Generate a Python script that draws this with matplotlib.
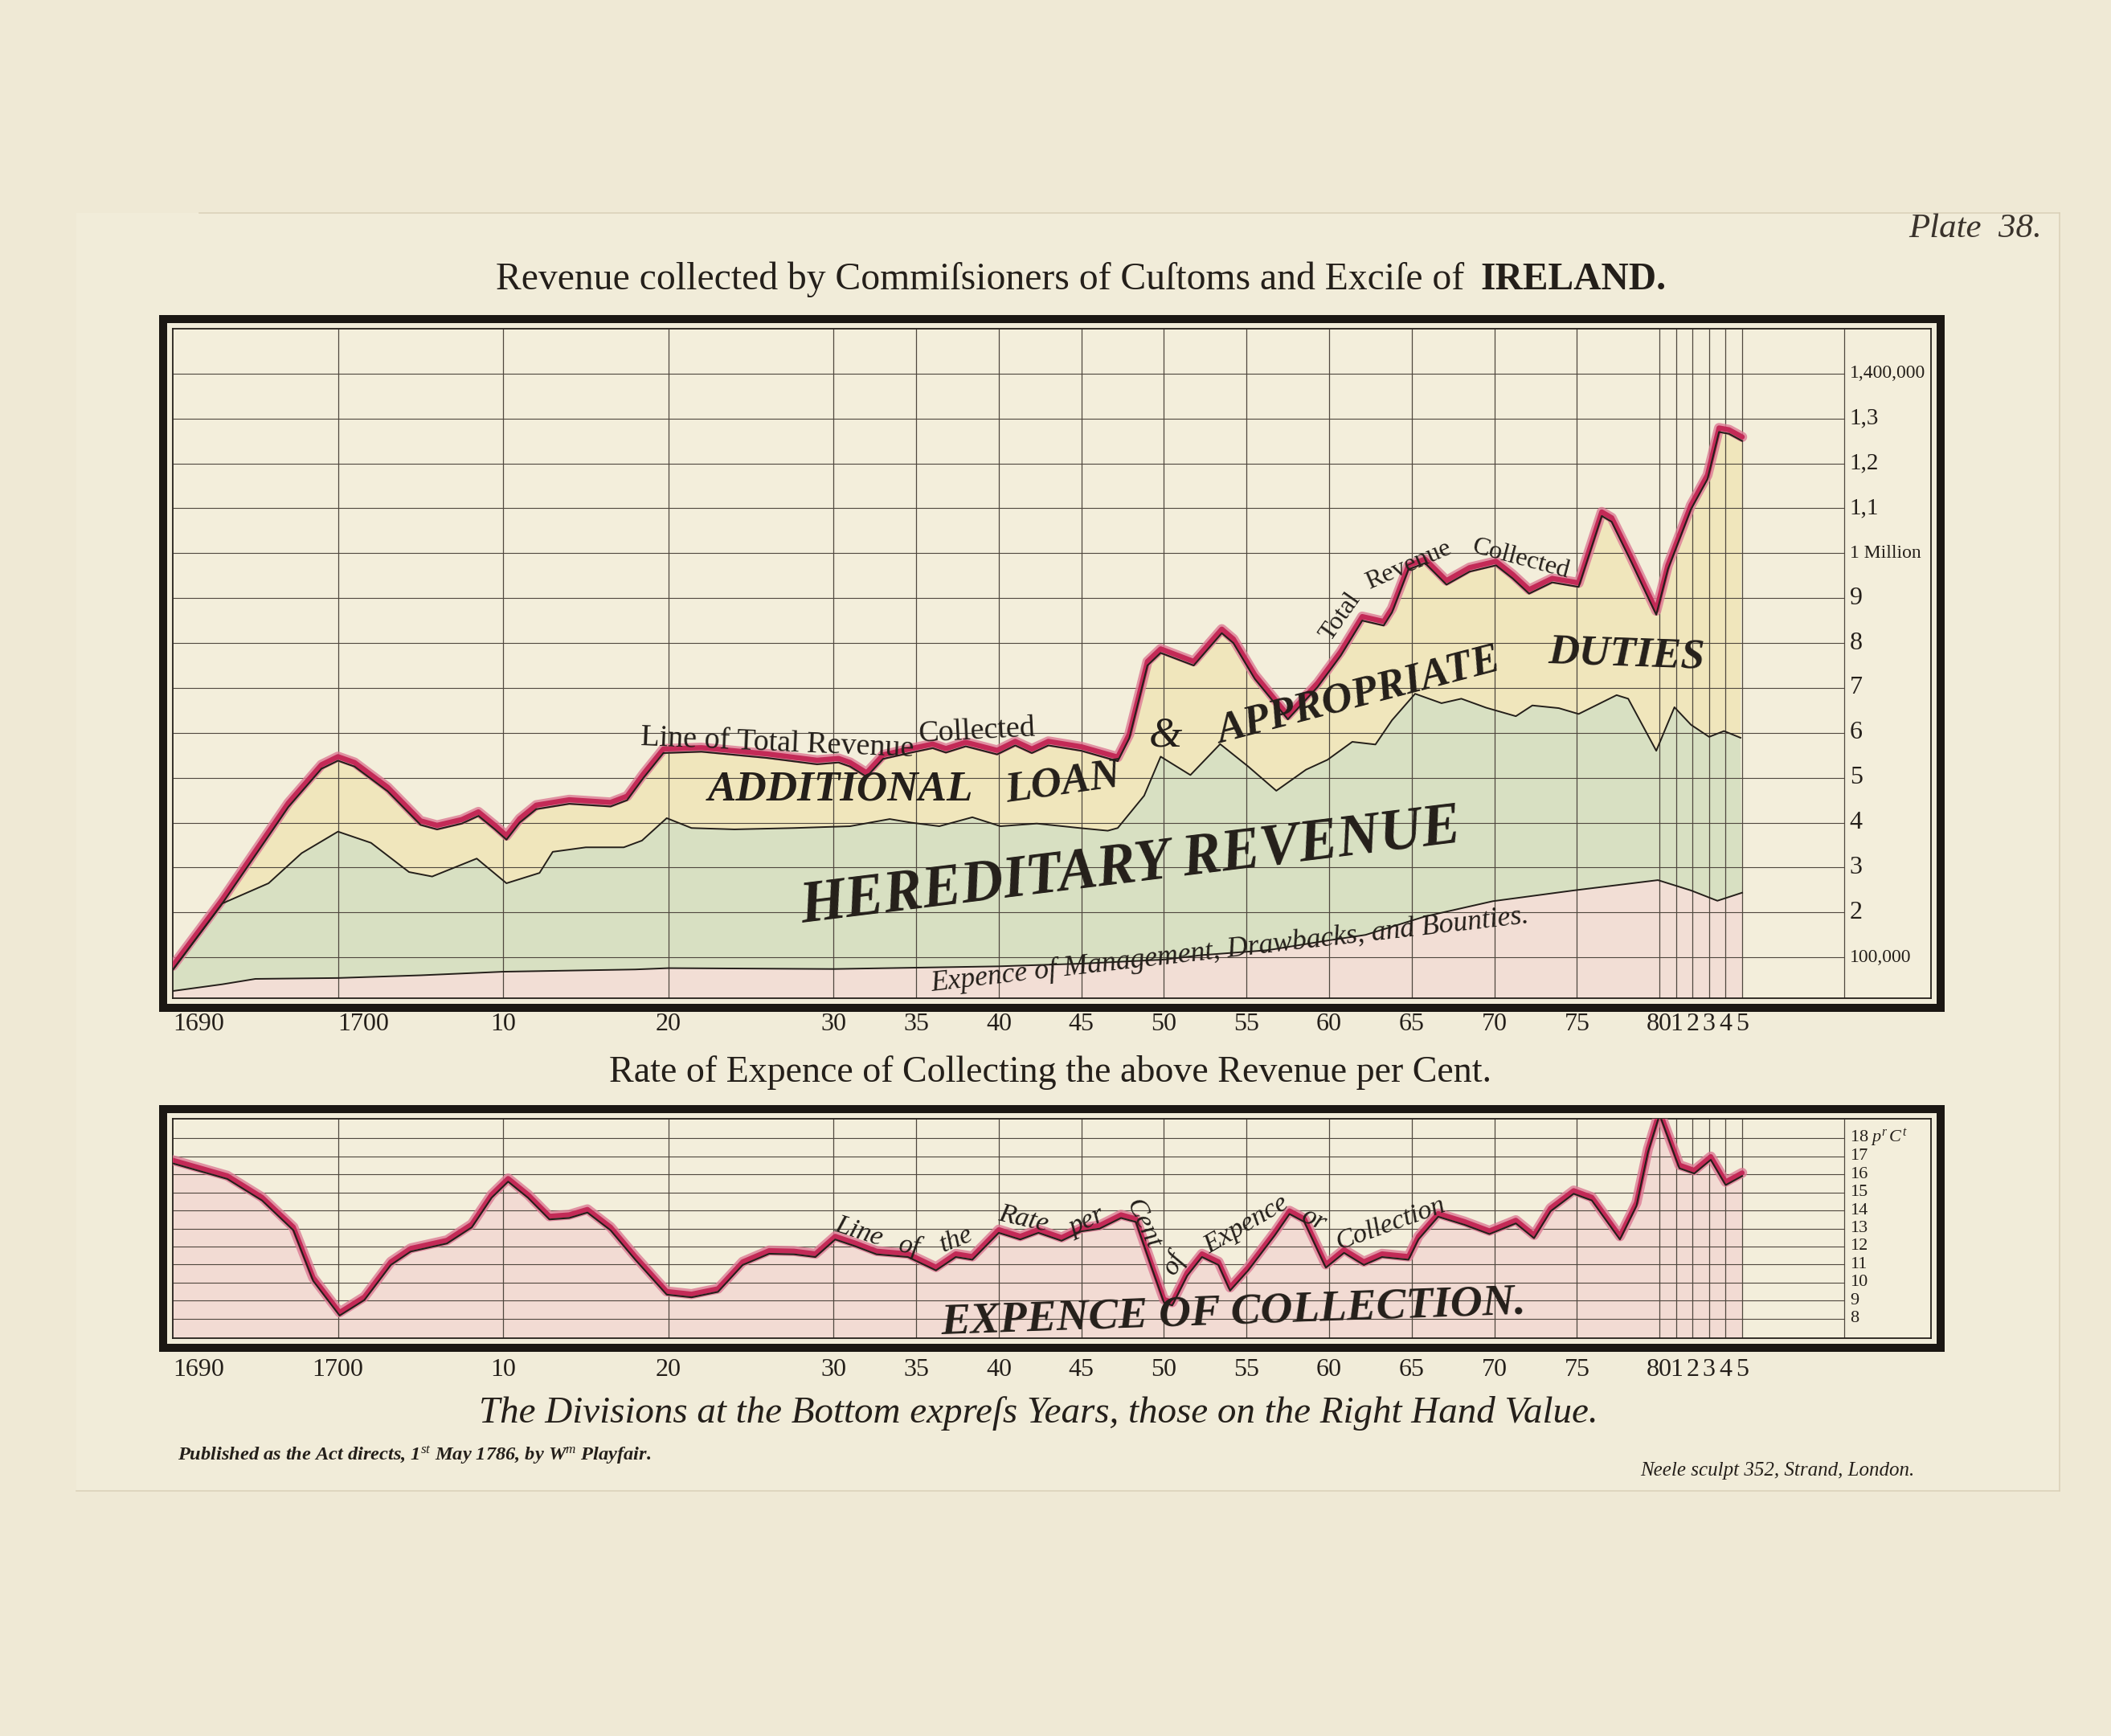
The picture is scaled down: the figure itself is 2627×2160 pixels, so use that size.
import numpy as np
import matplotlib
matplotlib.use("Agg")
import matplotlib.pyplot as plt
from matplotlib.patches import Rectangle
from matplotlib.lines import Line2D
from matplotlib import transforms

# ------------------------------------------------------------------ data
# Revenue values are in units of 100,000 pounds
total_years = [1690, 1693, 1697, 1699, 1700, 1701, 1703, 1705, 1706, 1707.5, 1708.5,
               1709.5, 1710.2, 1711, 1712, 1714, 1716.5, 1717.5, 1718.5, 1719.7, 1722,
               1726, 1729, 1730.3, 1731, 1732, 1733, 1734.7, 1736, 1736.8, 1738, 1739.9,
               1741, 1742, 1743, 1745, 1747.2, 1747.9, 1749, 1749.8, 1751.8, 1753.5,
               1754.2, 1755.5, 1757.5, 1759.3, 1760.7, 1762, 1763.3, 1763.8, 1764.8,
               1765.8, 1767.1, 1768.5, 1770.1, 1771.1, 1772.1, 1773.5, 1775.1, 1776.5,
               1777.1, 1778.3, 1779.8, 1780.5, 1781.9, 1782.9, 1783.6, 1784.2, 1785]
total_vals = [0.72, 2.2, 4.35, 5.2, 5.38, 5.25, 4.7, 3.95, 3.85, 3.98, 4.15,
              3.85, 3.62, 4.0, 4.3, 4.42, 4.36, 4.5, 5.0, 5.55, 5.58,
              5.44, 5.3, 5.34, 5.25, 5.02, 5.42, 5.56, 5.66, 5.56, 5.70, 5.52,
              5.72, 5.55, 5.72, 5.6, 5.37, 5.88, 7.5, 7.78, 7.5, 8.22,
              8.0, 7.2, 6.3, 7.02, 7.72, 8.5, 8.39, 8.68, 9.64,
              9.78, 9.3, 9.59, 9.73, 9.44, 9.1, 9.35, 9.25, 10.83,
              10.7, 9.8, 8.63, 9.64, 10.98, 11.65, 12.7, 12.66, 12.5]

hered_years = [1690, 1693, 1695.8, 1697.8, 1700, 1702, 1704.3, 1705.7, 1708.4, 1710.2,
               1712.2, 1713, 1715, 1717.3, 1718.4, 1719.9, 1721.4, 1724, 1727.6, 1731,
               1733.4, 1734.7, 1736.4, 1738.4, 1740.1, 1742.3, 1744.9, 1746.6, 1747.2,
               1748.8, 1749.8, 1751.6, 1753.4, 1755.1, 1756.8, 1758.6, 1759.9, 1761.4,
               1762.8, 1763.8, 1765.2, 1766.8, 1768, 1769.5, 1771.3, 1772.3, 1773.9,
               1775.1, 1777.4, 1778.1, 1779.8, 1780.9, 1781.9, 1783, 1783.9, 1784.9]
hered_vals = [0.72, 2.2, 2.65, 3.32, 3.8, 3.55, 2.9, 2.8, 3.2, 2.65,
              2.88, 3.35, 3.45, 3.45, 3.6, 4.1, 3.88, 3.85, 3.88, 3.92,
              4.08, 4.0, 3.92, 4.12, 3.92, 3.98, 3.88, 3.82, 3.88,
              4.6, 5.47, 5.06, 5.75, 5.25, 4.71, 5.18, 5.4, 5.8,
              5.74, 6.28, 6.87, 6.66, 6.76, 6.56, 6.37, 6.61, 6.55,
              6.42, 6.84, 6.76, 5.6, 6.57, 6.18, 5.91, 6.04, 5.89]

expence_years = [1690, 1693, 1695, 1700, 1705, 1710, 1718, 1720, 1730, 1740, 1745, 1750,
                 1752.3, 1756.3, 1760, 1762.2, 1765.8, 1769.9, 1774.8, 1779.9, 1781.9,
                 1783.5, 1785]
expence_vals = [0.25, 0.4, 0.52, 0.54, 0.6, 0.68, 0.73, 0.76, 0.74, 0.8, 0.86, 0.95,
                1.05, 1.16, 1.38, 1.5, 1.91, 2.25, 2.49, 2.72, 2.49,
                2.26, 2.44]

# Rate of expence of collection, per cent
rate_years = [1690, 1693.3, 1695.4, 1697.3, 1698.5, 1700.1, 1701.6, 1703.2, 1704.4, 1706.6,
              1708.1, 1709.3, 1710.3, 1711.5, 1712.8, 1714, 1715.1, 1716.5, 1718, 1719.9,
              1721.4, 1723, 1724.5, 1726.1, 1727.6, 1728.9, 1730.1, 1731.3, 1732.6, 1734.5,
              1736.2, 1737.4, 1738.4, 1740, 1741.3, 1742.4, 1743.8, 1745, 1746.1, 1747.4,
              1748.3, 1749.2, 1750, 1750.5, 1751.4, 1752.3, 1753.3, 1754, 1755.1, 1756.7,
              1757.6, 1758.5, 1759.8, 1760.9, 1762.1, 1763.2, 1764.8, 1765.4, 1766.6, 1768.2,
              1769.7, 1771.3, 1772.4, 1773.4, 1774.8, 1775.9, 1777.6, 1778.6, 1779.3, 1780,
              1781.2, 1782.1, 1783.1, 1784, 1785]
rate_vals = [16.6, 15.74, 14.55, 12.9, 10.1, 8.18, 9.04, 10.98, 11.72, 12.17,
             13.06, 14.7, 15.59, 14.7, 13.5, 13.58, 13.88, 12.9, 11.27, 9.34,
             9.19, 9.49, 10.98, 11.6, 11.57, 11.42, 12.39, 12.02, 11.57, 11.42,
             10.68, 11.42, 11.27, 12.76, 12.39, 12.76, 12.32, 12.84, 12.99, 13.58,
             13.36, 10.98, 8.9, 8.74, 10.38, 11.42, 10.98, 9.56, 10.68, 12.61,
             13.8, 13.36, 10.83, 11.65, 10.98, 11.42, 11.27, 12.39, 13.65, 13.2,
             12.69, 13.28, 12.46, 13.95, 14.92, 14.55, 12.39, 14.25, 17.23, 19.3,
             16.33, 16.04, 16.8, 15.4, 15.9]

grid_years = [1700, 1710, 1720, 1730, 1735, 1740, 1745, 1750, 1755, 1760, 1765,
              1770, 1775, 1780, 1781, 1782, 1783, 1784, 1785]
year_label_pos = [1690, 1700, 1710, 1720, 1730, 1735, 1740, 1745, 1750, 1755, 1760,
                  1765, 1770, 1775, 1780, 1781, 1782, 1783, 1784, 1785]
year_labels = ['1690', '1700', '10', '20', '30', '35', '40', '45', '50', '55', '60',
               '65', '70', '75', '80', '1', '2', '3', '4', '5']

rev_grid = [1, 2, 3, 4, 5, 6, 7, 8, 9, 10, 11, 12, 13, 14]
rev_labels = ['100,000', '2', '3', '4', '5', '6', '7', '8', '9', '1 Million',
              '1,1', '1,2', '1,3', '1,400,000']
rate_grid = [8, 9, 10, 11, 12, 13, 14, 15, 16, 17, 18]
rate_labels = ['8', '9', '10', '11', '12', '13', '14', '15', '16', '17', '18 $p^{r}\\,C^{t}$']

# ------------------------------------------------------------------ style
plt.rcParams['font.family'] = ['Liberation Serif', 'DejaVu Serif']
plt.rcParams['mathtext.fontset'] = 'custom'
plt.rcParams['mathtext.rm'] = 'Liberation Serif'
plt.rcParams['mathtext.it'] = 'Liberation Serif:italic'
plt.rcParams['mathtext.bf'] = 'Liberation Serif:bold'

PAPER = '#EFE9D5'
PLATE = '#F1ECD9'
INSIDE = '#F3EEDB'
YELLOW = '#F0E6BC'
GREEN = '#D8E0C2'
PINK = '#F2DED5'
PINK2 = '#F2DBD3'
INK = '#241F1A'
GRID = '#4F473E'
RED = '#C32A57'
REDWASH = '#DC7A94'

W, H = 2627, 2160
fig = plt.figure(figsize=(W / 100, H / 100), dpi=100)
fig.patch.set_facecolor(PAPER)
renderer = fig.canvas.get_renderer()


def fx(x):
    return x / W


def fy(y):
    return 1 - y / H


def fit(t, width_px):
    """Scale a text's font size so its unrotated width matches width_px."""
    rot = t.get_rotation()
    t.set_rotation(0)
    bb = t.get_window_extent(renderer)
    t.set_fontsize(t.get_fontsize() * width_px / bb.width)
    t.set_rotation(rot)
    return t.get_fontsize()


# plate mark
fig.add_artist(Rectangle((fx(95), fy(1855)), fx(2563) - fx(95), fy(265) - fy(1855),
                         transform=fig.transFigure, facecolor=PLATE, edgecolor='none',
                         zorder=0))
for xs, ys in (([248, 2563], [265, 265]), ([2563, 2563], [265, 1855]),
               ([95, 2563], [1855, 1855])):
    fig.add_artist(Line2D([fx(v) for v in xs], [fy(v) for v in ys],
                          transform=fig.transFigure, color='#DAD0B8', lw=1.1, zorder=0))

XMIN, XMAX = 1690, 1796.43
COL = 1791.16


def add_panel(l, t, r, b, ylim):
    ax = fig.add_axes([fx(l), fy(b), fx(r) - fx(l), fy(t) - fy(b)])
    ax.set_xlim(XMIN, XMAX)
    ax.set_ylim(*ylim)
    ax.set_facecolor(INSIDE)
    ax.set_xticks([])
    ax.set_yticks([])
    for s in ax.spines.values():
        s.set_color(INK)
        s.set_linewidth(1.3)
    off = 12
    fig.add_artist(Rectangle((fx(l - off), fy(b + off)), fx(r + off) - fx(l - off),
                             fy(t - off) - fy(b + off), transform=fig.transFigure,
                             fill=False, edgecolor='#1B1713', lw=7.2, zorder=5,
                             joinstyle='miter'))
    return ax


ax1 = add_panel(215, 409, 2403, 1242, (0.09, 15.0))
ax2 = add_panel(215, 1392, 2403, 1665, (6.93, 19.07))

# ------------------------------------------------------------------ top panel
ax1.fill(np.concatenate([total_years, hered_years[::-1]]),
         np.concatenate([total_vals, hered_vals[::-1]]), color=YELLOW, lw=0, zorder=1)
ax1.fill(np.concatenate([hered_years, expence_years[::-1]]),
         np.concatenate([hered_vals, expence_vals[::-1]]), color=GREEN, lw=0, zorder=1)
ax1.fill(np.concatenate([expence_years, [expence_years[-1], expence_years[0]]]),
         np.concatenate([expence_vals, [0, 0]]), color=PINK, lw=0, zorder=1)

for ax, gvals in ((ax1, rev_grid), (ax2, rate_grid)):
    ax.vlines(grid_years, *ax.get_ylim(), color=GRID, lw=0.9, zorder=2)
    ax.vlines([COL], *ax.get_ylim(), color=GRID, lw=0.9, zorder=2)
    ax.hlines(gvals, XMIN, COL, color=GRID, lw=0.8, zorder=2)

up1 = transforms.offset_copy(ax1.transData, fig=fig, x=0, y=5, units='dots')
ax1.plot(total_years, total_vals, color=REDWASH, lw=9, alpha=0.8, transform=up1,
         solid_capstyle='round', solid_joinstyle='round', zorder=3)
ax1.plot(total_years, total_vals, color=RED, lw=4.6, transform=up1,
         solid_capstyle='round', solid_joinstyle='round', zorder=3)
ax1.plot(total_years, total_vals, color=INK, lw=1.5, zorder=4, solid_joinstyle='round')
ax1.plot(hered_years, hered_vals, color=INK, lw=1.4, zorder=4, solid_joinstyle='round')
ax1.plot(expence_years, expence_vals, color=INK, lw=1.4, zorder=4, solid_joinstyle='round')

for v, lab in zip(rev_grid, rev_labels):
    size = 17 if len(lab) > 4 else (21 if ',' in lab else 23)
    ax1.text(COL + 0.35, v, lab, fontsize=size, ha='left', va='center', color=INK, zorder=6)


def put(ax, txt, x, y, rot, size=20, style='normal', weight='normal', width=None):
    t = ax.text(x, y, txt, rotation=rot, fontsize=size, style=style, weight=weight,
                ha='center', va='center', color=INK, zorder=6, rotation_mode='anchor')
    if width is not None:
        fit(t, width)
    return t


# annotations top
t = put(ax1, "Line of Total Revenue", 1726.6, 5.76, -2.4, width=340)
put(ax1, "Collected", 1738.7, 6.04, 3, size=t.get_fontsize())
c = put(ax1, "Collected", 1771.6, 9.87, -15, width=124)
put(ax1, "Total", 1760.7, 8.58, 55, size=c.get_fontsize())
put(ax1, "Revenue", 1764.8, 9.73, 23.6, size=c.get_fontsize())

big = put(ax1, "ADDITIONAL", 1730.4, 4.73, 0, style='italic', weight='bold', width=330)
bs = big.get_fontsize()
put(ax1, "LOAN", 1743.9, 4.87, 8, size=bs, style='italic', weight='bold')
put(ax1, "&", 1750.1, 5.93, 0, size=bs, style='italic')
put(ax1, "APPROPRIATE", 1761.8, 6.82, 14.6, size=bs, style='italic', weight='bold')
put(ax1, "DUTIES", 1778.0, 7.74, -2, size=bs, style='italic', weight='bold')
put(ax1, "HEREDITARY REVENUE", 1748.0, 2.99, 7, style='italic', weight='bold', width=827)
put(ax1, "Expence of Management, Drawbacks, and Bounties.", 1754.0, 1.16, 6.5,
    style='italic', width=750)

# ------------------------------------------------------------------ bottom panel
ax2.fill(np.concatenate([rate_years, [rate_years[-1], rate_years[0]]]),
         np.concatenate([rate_vals, [0, 0]]), color=PINK2, lw=0, zorder=1)
up2 = transforms.offset_copy(ax2.transData, fig=fig, x=0, y=4, units='dots')
ax2.plot(rate_years, rate_vals, color=REDWASH, lw=9, alpha=0.8, transform=up2,
         solid_capstyle='round', solid_joinstyle='round', zorder=3)
ax2.plot(rate_years, rate_vals, color=RED, lw=4.4, transform=up2,
         solid_capstyle='round', solid_joinstyle='round', zorder=3)
ax2.plot(rate_years, rate_vals, color=INK, lw=1.5, zorder=4, solid_joinstyle='round')

for v, lab in zip(rate_grid, rate_labels):
    ax2.text(COL + 0.35, v, lab, fontsize=16, ha='left', va='center', color=INK, zorder=6)

w = put(ax2, "Collection", 1763.7, 13.27, 20, style='italic', width=143)
ws = w.get_fontsize()
for txt, x, y, rot in [("Line", 1731.55, 12.82, -18), ("of", 1734.6, 12.0, -10),
                       ("the", 1737.4, 12.38, 22), ("Rate", 1741.5, 13.49, -13),
                       ("per", 1745.3, 13.36, 25), ("Cent", 1748.7, 13.27, -65),
                       ("of", 1750.6, 11.1, 60), ("Expence", 1755.0, 13.2, 30),
                       ("or", 1759.1, 13.45, -25)]:
    put(ax2, txt, x, y, rot, size=ws, style='italic')
put(ax2, "EXPENCE OF COLLECTION.", 1754.2, 8.31, 2, style='italic', weight='bold', width=727)

# ------------------------------------------------------------------ year labels
for ax, ypix in ((ax1, 1275), (ax2, 1704)):
    bt = transforms.blended_transform_factory(ax.transData, fig.transFigure)
    for pos, lab in zip(year_label_pos, year_labels):
        ha = 'left' if len(lab) == 4 and (pos == 1690 or ax is ax1) else 'center'
        ax.text(pos, fy(ypix), lab, transform=bt, fontsize=23, ha=ha, va='center',
                color=INK, clip_on=False)

# ------------------------------------------------------------------ titles
t = fig.text(fx(1834), fy(348), "Revenue collected by Commiſsioners of Cuſtoms and Exciſe of ",
             fontsize=30, ha='right', va='center', color=INK)
fit(t, 1215)
t = fig.text(fx(1842), fy(348), "IRELAND.", fontsize=30, weight='bold', ha='left',
             va='center', color=INK)
fit(t, 231)
t = fig.text(fx(1307), fy(1335), "Rate of Expence of Collecting the above Revenue per Cent.",
             fontsize=29, ha='center', va='center', color=INK)
fit(t, 1099)
t = fig.text(fx(1292), fy(1759),
             "The Divisions at the Bottom expreſs Years, those on the Right Hand Value.",
             fontsize=30, style='italic', ha='center', va='center', color=INK)
fit(t, 1395)
t = fig.text(fx(221), fy(1811),
             "Published as the Act directs, 1$^{st}$ May 1786, by W$^{m}$ Playfair.",
             fontsize=16, style='italic', weight='bold', ha='left', va='center', color=INK)
fit(t, 592)
t = fig.text(fx(2382), fy(1830), "Neele sculpt 352, Strand, London.", fontsize=16,
             style='italic', ha='right', va='center', color=INK)
fit(t, 342)
t = fig.text(fx(2458), fy(285), "Plate  38.", fontsize=24, style='italic', ha='center',
             va='center', color='#3A332C')
fit(t, 166)

fig.savefig("out.png", dpi=100, facecolor=fig.get_facecolor())
